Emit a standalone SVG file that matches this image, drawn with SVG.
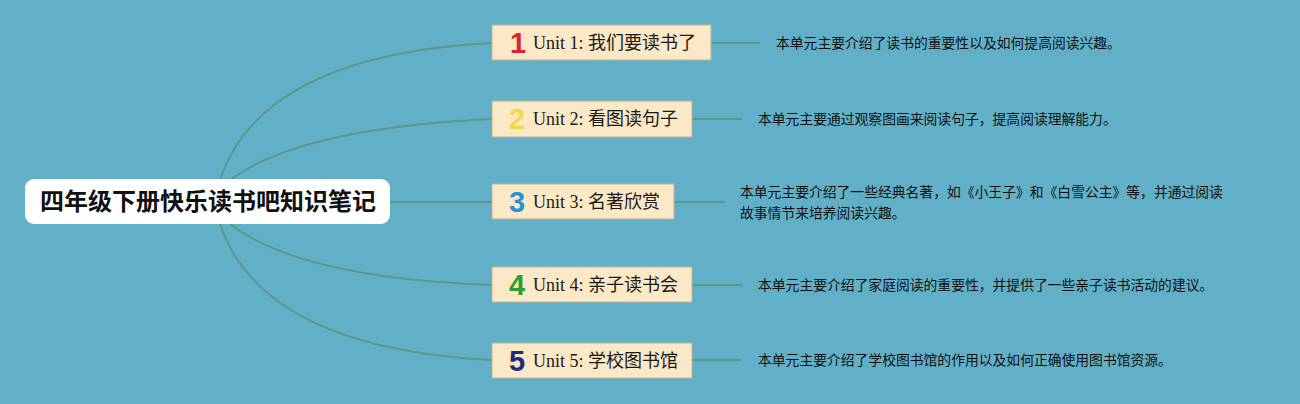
<svg xmlns="http://www.w3.org/2000/svg" width="1300" height="404" viewBox="0 0 1300 404">
<style>
.bg{fill:#61b0c7}
.conn{fill:none;stroke:#5a9a84;stroke-width:1.8}
.box{fill:#fbe8c6;stroke:#c6b48c;stroke-width:1}
.lbl{font-family:"Liberation Serif","Noto Sans CJK SC",serif;font-size:18px;fill:#1a1a1a}
.num{font-family:"Liberation Sans","DejaVu Sans",sans-serif;font-size:29px;font-weight:bold;text-anchor:middle}
.desc{font-family:"Liberation Sans","Noto Sans CJK SC",sans-serif;font-size:13.8px;fill:#111}
.root{font-family:"Noto Sans CJK SC","Liberation Sans",sans-serif;font-size:24px;font-weight:bold;fill:#111;text-anchor:middle}
</style>
<rect class="bg" x="0" y="0" width="1300" height="404"/>
<g id="connectors">
<path class="conn" d="M220,180 Q262,55 492,43"/>
<path class="conn" d="M230,180 Q300,128 492,119"/>
<path class="conn" d="M390,202 L492,202"/>
<path class="conn" d="M230,224 Q300,278 492,285"/>
<path class="conn" d="M220,224 Q262,348 492,360"/>
<path class="conn" d="M711,43 L760,43"/>
<path class="conn" d="M692,119 L742,119"/>
<path class="conn" d="M674,202 L725,202"/>
<path class="conn" d="M692,285 L742,285"/>
<path class="conn" d="M692,360 L742,360"/>
</g>
<g id="root">
<rect x="25" y="179" width="365" height="45" rx="9" fill="#ffffff"/>
<text class="root" x="208" y="210">四年级下册快乐读书吧知识笔记</text>
</g>
<g id="unit1">
<rect class="box" x="492" y="25" width="219" height="35"/>
<text class="num" x="518" y="53" fill="#e01f2f">1</text>
<text class="lbl" x="533" y="49">Unit 1: 我们要读书了</text>
</g>
<g id="unit2">
<rect class="box" x="492" y="101" width="200" height="36"/>
<text class="num" x="517" y="129" fill="#f2d94a">2</text>
<text class="lbl" x="533" y="125">Unit 2: 看图读句子</text>
</g>
<g id="unit3">
<rect class="box" x="492" y="184" width="182" height="35"/>
<text class="num" x="517" y="212" fill="#2b8fd6">3</text>
<text class="lbl" x="533" y="208">Unit 3: 名著欣赏</text>
</g>
<g id="unit4">
<rect class="box" x="492" y="267" width="200" height="35"/>
<text class="num" x="517" y="295" fill="#2a9e2e">4</text>
<text class="lbl" x="533" y="291">Unit 4: 亲子读书会</text>
</g>
<g id="unit5">
<rect class="box" x="492" y="343" width="200" height="35"/>
<text class="num" x="517" y="371" fill="#1e2a78">5</text>
<text class="lbl" x="533" y="367">Unit 5: 学校图书馆</text>
</g>
<g id="desc1"><text class="desc" x="776" y="48">本单元主要介绍了读书的重要性以及如何提高阅读兴趣。</text></g>
<g id="desc2"><text class="desc" x="758" y="124">本单元主要通过观察图画来阅读句子，提高阅读理解能力。</text></g>
<g id="desc3"><text class="desc" x="740" y="197">本单元主要介绍了一些经典名著，如《小王子》和《白雪公主》等，并通过阅读</text><text class="desc" x="740" y="218">故事情节来培养阅读兴趣。</text></g>
<g id="desc4"><text class="desc" x="758" y="290">本单元主要介绍了家庭阅读的重要性，并提供了一些亲子读书活动的建议。</text></g>
<g id="desc5"><text class="desc" x="758" y="365">本单元主要介绍了学校图书馆的作用以及如何正确使用图书馆资源。</text></g>
</svg>
